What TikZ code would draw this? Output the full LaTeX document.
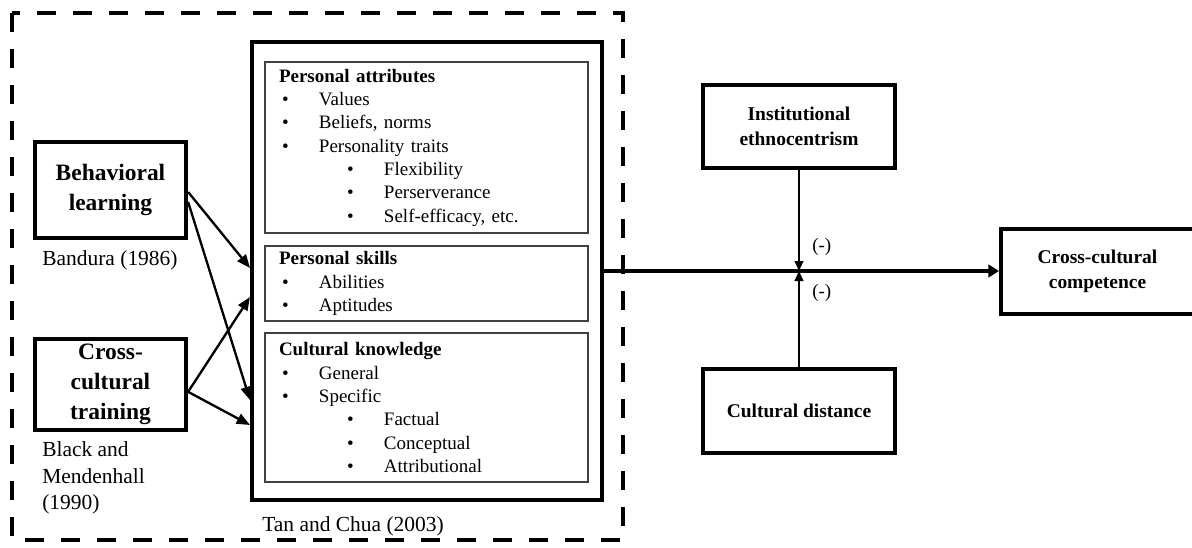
\documentclass[tikz,border=0pt]{standalone}
\usepackage{fontspec}
\setmainfont{Liberation Serif}
\usetikzlibrary{arrows.meta,positioning,calc}
\newcommand{\itm}[1]{\hspace*{2.25pt}\makebox[27.75pt][l]{\textbullet}#1}
\newcommand{\sitm}[1]{\hspace*{51pt}\makebox[27.75pt][l]{\textbullet}#1}
\tikzset{
  dashframe/.style={draw,line width=3.4pt,dash pattern=on 14pt off 13pt},
  mainbox/.style={rectangle,draw,line width=3.4pt,minimum width=262.5pt,minimum height=343.5pt},
  inbox/.style={rectangle,draw=black!75,line width=1.1pt,minimum width=242.25pt,text width=221.25pt,
                inner xsep=10.5pt,align=left,font=\fontsize{14.25}{17.5}\selectfont},
  srcbox/.style={rectangle,draw,line width=3.2pt,minimum width=113.25pt,align=center,
                 font=\bfseries\fontsize{17.6}{22.3}\selectfont},
  modbox/.style={rectangle,draw,line width=3pt,minimum width=144pt,minimum height=62.5pt,align=center,
                 font=\bfseries\fontsize{14.6}{18.75}\selectfont},
  cite/.style={align=left,inner sep=0pt,font=\fontsize{16.1}{19.9}\selectfont},
  sign/.style={inner sep=0pt,font=\fontsize{14.25}{17}\selectfont},
  fl/.style={-{Triangle[length=10pt,width=8pt]},line width=1.75pt},
  ml/.style={-{Triangle[length=7.5pt,width=6.5pt]},line width=1.5pt},
  bl/.style={-{Triangle[length=8pt,width=9.5pt]},line width=2.5pt},
}
\begin{document}
\begin{tikzpicture}[x=0.75pt,y=-0.75pt]
  \useasboundingbox (0,0) rectangle (1192,547);
  \draw[dashframe] (12,13) rectangle (623,540);
  % Tan and Chua block
  \node[mainbox] (tc) at (427,271) {};
  \node[inbox,minimum height=128.25pt] (pa) at (426.5,147.5) {\textbf{Personal attributes}\\
    \itm{Values}\\ \itm{Beliefs, norms}\\ \itm{Personality traits}\\
    \sitm{Flexibility}\\ \sitm{Perserverance}\\ \sitm{Self-efficacy, etc.}};
  \node[inbox,minimum height=56.25pt] (ps) at (426.5,283.5) {\textbf{Personal skills}\\
    \itm{Abilities}\\ \itm{Aptitudes}};
  \node[inbox,minimum height=111.75pt] (ck) at (426.5,407.5) {\textbf{Cultural knowledge}\\
    \itm{General}\\ \itm{Specific}\\
    \sitm{Factual}\\ \sitm{Conceptual}\\ \sitm{Attributional}};
  \node[cite,anchor=west] (tcsrc) at (262,526) {Tan and Chua (2003)};
  % antecedents
  \node[srcbox,minimum height=72pt] (beh) at (110.5,190) {Behavioral\\learning};
  \node[srcbox,minimum height=68.25pt] (cct) at (110.5,384.5) {Cross-\\cultural\\training};
  \node[cite,anchor=west] (band) at (42,260) {Bandura (1986)};
  \node[cite,anchor=west] (bmsrc) at (42,478) {Black and\\Mendenhall\\(1990)};
  \coordinate (a1) at (250,268);
  \coordinate (a2) at (250,400);
  \coordinate (a3) at (250,297);
  \coordinate (a4) at (250,425);
  \draw[fl] ([yshift=-1.5pt]beh.east) -- (a1);
  \draw[fl] ([yshift=-9pt]beh.east) -- (a2);
  \draw[fl] ([yshift=-5.5pt]cct.east) -- (a3);
  \draw[fl] ([yshift=-5.5pt]cct.east) -- (a4);
  % moderators and outcome
  \node[modbox] (inst) at (799,126.5) {Institutional\\ethnocentrism};
  \node[modbox,minimum height=63pt] (cdist) at (799,411) {Cultural distance};
  \node[modbox,minimum width=144.75pt,minimum height=63.75pt] (ccc) at (1097.5,271) {Cross-cultural\\competence};
  \coordinate (j) at (799,271);
  \draw[bl] (tc.east) -- (ccc.west);
  \draw[ml] (inst) -- (j);
  \draw[ml] (cdist) -- (j);
  \node[sign,anchor=west] (s1) at (812,247) {(-)};
  \node[sign,anchor=west] (s2) at (812,293) {(-)};
\end{tikzpicture}
\end{document}
